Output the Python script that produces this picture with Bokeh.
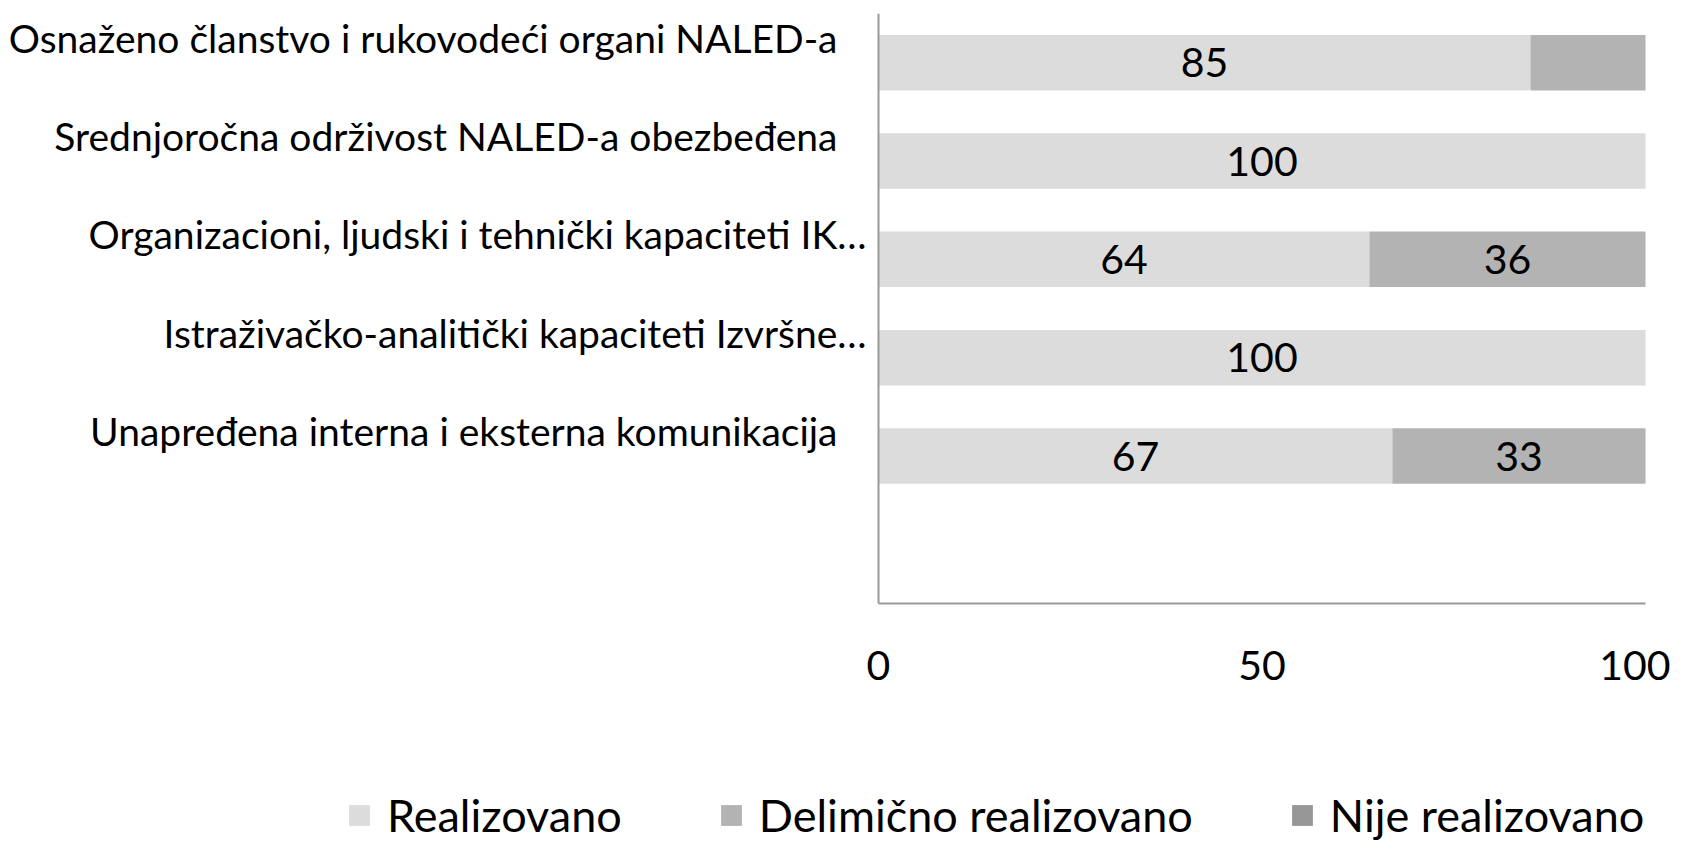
from bokeh.plotting import figure
from bokeh.layouts import column
from bokeh.models import (ColumnDataSource, FactorRange, Range1d, Span,
                          Legend, LegendItem, FixedTicker)
from bokeh.core.properties import value
from bokeh.embed import file_html
from bokeh.resources import INLINE

# ---------------- data ----------------
categories = [
    "Osnaženo članstvo i rukovodeći organi NALED-a",
    "Srednjoročna održivost NALED-a obezbeđena",
    "Organizacioni, ljudski i tehnički kapaciteti IK…",
    "Istraživačko-analitički kapaciteti Izvršne…",
    "Unapređena interna i eksterna komunikacija",
]
blank_slot = " "  # empty sixth row of the original chart

series_names = ["Realizovano", "Delimično realizovano", "Nije realizovano"]
realizovano = [85, 100, 64, 100, 67]
delimicno = [15, 0, 36, 0, 33]
nije = [0, 0, 0, 0, 0]

realizovano_labels = ["85", "100", "64", "100", "67"]
delimicno_labels = ["", "", "36", "", "33"]

x_ticks = [0, 50, 100]
x_max = 100

# ---------------- layout / styles ----------------
W, H = 1670, 843
H_MAIN = 720
AXIS_PX = 878        # pixel column of the value axis origin
END_PX = 1645        # pixel column of the value 100
FRAME_TOP, FRAME_BOTTOM = 13, 603
colors = ["#dcdcdc", "#b3b3b3", "#969696"]
FONT = "Lato"
label_pad = [-41, -41, -12, -12, -41]   # per-label distance from the axis (px)

px_per_unit = (END_PX - AXIS_PX) / x_max
x_start = -AXIS_PX / px_per_unit
x_end = x_max + (W - END_PX) / px_per_unit

keys = ["r", "d", "n"]
src = ColumnDataSource(dict(cat=categories, r=realizovano, d=delimicno, n=nije))

p = figure(
    width=W, height=H_MAIN,
    y_range=FactorRange(factors=list(reversed(categories + [blank_slot]))),
    x_range=Range1d(x_start, x_end),
    y_axis_location=None,
    output_backend="svg", toolbar_location=None,
    min_border_left=0, min_border_right=0,
    min_border_top=FRAME_TOP, min_border_bottom=H_MAIN - FRAME_BOTTOM,
)
p.outline_line_color = None
p.xgrid.visible = False
p.ygrid.visible = False

renderers = p.hbar_stack(keys, y="cat", height=0.565, color=colors, source=src,
                         line_color=None)

# vertical category axis line at value 0
p.add_layout(Span(location=0, dimension="height", line_color="#999999",
                  line_width=2))

# value labels centred in each segment
r_mid = [v / 2 for v in realizovano]
d_mid = [r + d / 2 for r, d in zip(realizovano, delimicno)]
txt_src = ColumnDataSource(dict(
    x=r_mid + d_mid,
    y=categories + categories,
    t=realizovano_labels + delimicno_labels,
))
p.text(x="x", y="y", text="t", source=txt_src, text_align="center",
       text_baseline="middle", text_font=value(FONT), text_font_size="41px",
       text_color="black", y_offset=0)

# category labels
cat_src = ColumnDataSource(dict(x=[0] * len(categories), y=categories,
                                t=categories, xo=label_pad))
p.text(x="x", y="y", text="t", source=cat_src, x_offset="xo", y_offset=-25,
       text_align="right", text_baseline="middle", text_font=value(FONT),
       text_font_size="39px", text_color="black")

# value axis
p.xaxis.ticker = FixedTicker(ticks=x_ticks)
p.xaxis.bounds = (0, x_max)
p.xaxis.major_tick_line_color = None
p.xaxis.minor_tick_line_color = None
p.xaxis.axis_line_color = "#999999"
p.xaxis.axis_line_width = 2
p.xaxis.major_label_text_font = FONT
p.xaxis.major_label_text_font_size = "41px"
p.xaxis.major_label_text_color = "black"
p.xaxis.major_label_standoff = 41

# ---------------- legend strip ----------------
pl = figure(
    width=W, height=H - H_MAIN, x_range=Range1d(0, 1), y_range=Range1d(0, 1),
    x_axis_location=None, y_axis_location=None,
    output_backend="svg", toolbar_location=None,
    min_border_left=0, min_border_right=0, min_border_top=0, min_border_bottom=0,
)
pl.outline_line_color = None
pl.xgrid.visible = False
pl.ygrid.visible = False
# legend swatch carriers, placed outside the visible range of the strip
swatches = [pl.rect(x=[-5], y=[-5], width=1, height=1, fill_color=c, line_color=None)
            for c in colors]

legend = Legend(
    items=[LegendItem(label=n, renderers=[r]) for n, r in zip(series_names, swatches)],
    orientation="horizontal", location=(346, 1),
    glyph_width=26, glyph_height=26, label_standoff=15, spacing=96,
    label_text_font=FONT, label_text_font_size="45px", label_text_color="black",
    padding=0, margin=0, border_line_color=None, background_fill_alpha=0,
)
pl.add_layout(legend, "center")

layout = column(p, pl, spacing=0)
open("out.html", "w").write(file_html(layout, INLINE))
